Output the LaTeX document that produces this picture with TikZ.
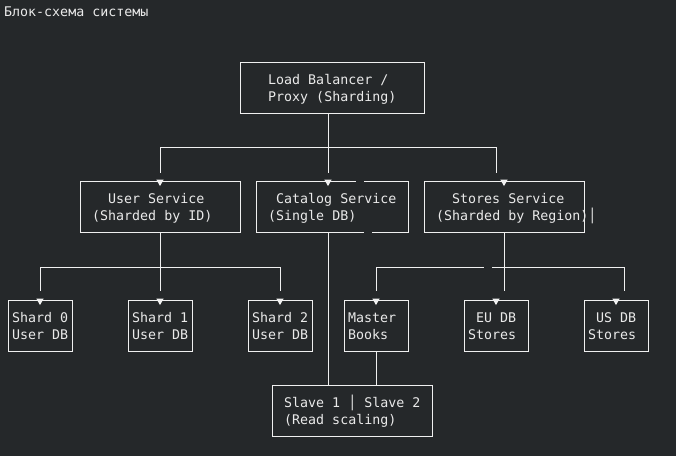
\documentclass[tikz,border=0pt]{standalone}
\usepackage{fontspec}
\newfontfamily\monof{DejaVu Sans Mono}
\definecolor{bgcol}{HTML}{25282A}
\definecolor{linecol}{HTML}{F0F0F0}
\definecolor{txtcol}{HTML}{EAEAEA}
\tikzset{
  box/.style={draw=linecol, line width=1pt, minimum height=51pt, inner sep=0pt, rectangle},
  txt/.style={anchor=base west, inner sep=0pt, text=txtcol, font=\monof\fontsize{13.3}{17}\selectfont},
  conn/.style={draw=linecol, line width=1pt},
  downtip/.pic={\fill[linecol] (-3.6,-0.8) -- (3.6,-0.8) -- (0,5.6) -- cycle;}
}
\begin{document}
\begin{tikzpicture}[x=1pt,y=-1pt]
\fill[bgcol] (0,0) rectangle (676,456);
\useasboundingbox (0,0) rectangle (676,456);

\node[txt] (title) at (4,16) {Блок-схема системы};

% boxes
\node[box, minimum width=184pt] (lb) at (332,87.5) {};
\node[box, minimum width=160pt] (us) at (160,206.5) {};
\node[box, minimum width=152pt] (cs) at (332,206.5) {};
\node[box, minimum width=160pt] (ss) at (504,206.5) {};
\node[box, minimum width=64pt] (s0) at (40,325.5) {};
\node[box, minimum width=64pt] (s1) at (160,325.5) {};
\node[box, minimum width=64pt] (s2) at (280,325.5) {};
\node[box, minimum width=64pt] (mb) at (376,325.5) {};
\node[box, minimum width=64pt] (eu) at (496,325.5) {};
\node[box, minimum width=64pt] (usdb) at (616,325.5) {};
\node[box, minimum width=160pt] (sl) at (352,410.5) {};

% gaps in the catalog box border
\fill[bgcol] (356,179.5) rectangle (364,182.5);
\fill[bgcol] (364,230.5) rectangle (372,233.5);

% texts
\node[txt] (lbt1) at (268,84.5) {Load Balancer /};
\node[txt] (lbt2) at (268,101.5) {Proxy (Sharding)};
\node[txt] (ust1) at (108,203.5) {User Service};
\node[txt] (ust2) at (92,220.5) {(Sharded by ID)};
\node[txt] (cst1) at (276,203.5) {Catalog Service};
\node[txt] (cst2) at (268,220.5) {(Single DB)};
\node[txt] (sst1) at (452,203.5) {Stores Service};
\node[txt] (sst2) at (436,220.5) {(Sharded by Region)│};
\node[txt] (s0t1) at (12,322.5) {Shard 0};
\node[txt] (s0t2) at (12,339.5) {User DB};
\node[txt] (s1t1) at (132,322.5) {Shard 1};
\node[txt] (s1t2) at (132,339.5) {User DB};
\node[txt] (s2t1) at (252,322.5) {Shard 2};
\node[txt] (s2t2) at (252,339.5) {User DB};
\node[txt] (mbt1) at (348,322.5) {Master};
\node[txt] (mbt2) at (348,339.5) {Books};
\node[txt] (eut1) at (476,322.5) {EU DB};
\node[txt] (eut2) at (468,339.5) {Stores};
\node[txt] (udt1) at (596,322.5) {US DB};
\node[txt] (udt2) at (588,339.5) {Stores};
\node[txt] (slt1) at (284,407.5) {Slave 1 │ Slave 2};
\node[txt] (slt2) at (284,424.5) {(Read scaling)};

% connector end points
\coordinate (lbout) at ([xshift=-4pt]lb.south);
\coordinate (csin) at ([xshift=-4pt,yshift=8pt]cs.north);
\coordinate (usin) at ([yshift=8pt]us.north);
\coordinate (busL) at (160,147);
\coordinate (busR) at (496,147);
\coordinate (ssin) at (496,173);
\coordinate (s0in) at ([yshift=9pt]s0.north);
\coordinate (s1in) at ([yshift=9pt]s1.north);
\coordinate (s2in) at ([yshift=9pt]s2.north);
\coordinate (ubusL) at (40,267);
\coordinate (ubusR) at (280,267);
\coordinate (mbin) at ([yshift=9pt]mb.north);
\coordinate (sdrop) at (504,291);
\coordinate (udin) at (624,291);
\coordinate (rbusL) at (376,267);
\coordinate (rgapL) at (484,267);
\coordinate (rgapR) at (492,267);
\coordinate (rbusR) at (624,267);
\coordinate (csout) at ([xshift=-4pt]cs.south);

% connectors
\draw[conn] (lbout) -- (csin);
\draw[conn] (usin) -- (busL) -- (busR) -- (ssin);
\draw[conn] (us.south) -- (s1in);
\draw[conn] (s0in) -- (ubusL) -- (ubusR) -- (s2in);
\draw[conn] (ss.south) -- (sdrop);
\draw[conn] (mbin) -- (rbusL) -- (rgapL);
\draw[conn] (rgapR) -- (rbusR) -- (udin);
\draw[conn] (csout) -- (csout |- sl.north);
\draw[conn] (mb.south) -- (sl.north -| mb.south);

% arrow tips
\pic at ([xshift=-4pt]cs.north) {downtip};
\pic at (us.north) {downtip};
\pic at (ss.north) {downtip};
\pic at (s0.north) {downtip};
\pic at (s1.north) {downtip};
\pic at (s2.north) {downtip};
\pic at (mb.north) {downtip};
\pic at (eu.north) {downtip};
\pic at (usdb.north) {downtip};
\end{tikzpicture}
\end{document}
